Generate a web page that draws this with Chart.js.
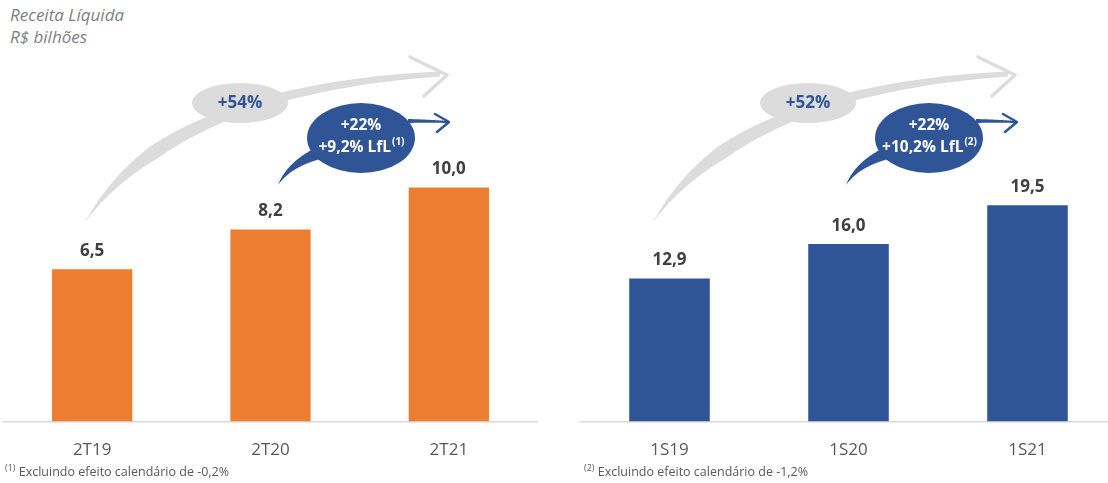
<!DOCTYPE html>
<html>
<head>
<meta charset="utf-8">
<script src="https://cdn.jsdelivr.net/npm/chart.js@4.4.1/dist/chart.umd.min.js"></script>
<style>
  html, body { margin: 0; padding: 0; background: #fff; }
  #page { position: relative; width: 1108px; height: 483px; overflow: hidden; font-family: "Open Sans", sans-serif; }
  .box { position: absolute; top: 0; height: 479px; }
  .title { position: absolute; left: 10px; color: #7f7f7f; font-style: italic; font-size: 17px; line-height: 22px; }
  .note { position: absolute; top: 461px; color: #595959; font-size: 12.5px; }
  .note sup { font-size: 9px; vertical-align: 5px; }
</style>
</head>
<body>
<div id="page">
  <div class="title" style="top:4px">Receita Líquida<br>R$ bilhões</div>
  <div class="box" style="left:3px; width:535px;"><canvas id="quarterChart"></canvas></div>
  <div class="box" style="left:580px; width:537px;"><canvas id="semesterChart"></canvas></div>
  <div class="note" style="left:5px"><sup>(1)</sup> Excluindo efeito calendário de -0,2%</div>
  <div class="note" style="left:584px"><sup>(2)</sup> Excluindo efeito calendário de -1,2%</div>
</div>
<script>
const quarterLabels = ['2T19', '2T20', '2T21'];
const quarterValues = [6.5, 8.2, 10.0];
const semesterLabels = ['1S19', '1S20', '1S21'];
const semesterValues = [12.9, 16.0, 19.5];
const quarterGrowth = ['+54%', '+22%', '+9,2% LfL', '(1)'];
const semesterGrowth = ['+52%', '+22%', '+10,2% LfL', '(2)'];

const ORANGE = '#ed7d31';
const BLUE = '#2f5597';
const GREY = '#dcdcdc';

// value labels above the bars
const valueLabels = {
    id: 'valueLabels',
    afterDatasetsDraw(chart) {
        const ctx = chart.ctx;
        const meta = chart.getDatasetMeta(0);
        ctx.save();
        ctx.font = 'bold 17px "Open Sans"';
        ctx.fillStyle = '#404040';
        ctx.textAlign = 'center';
        ctx.textBaseline = 'middle';
        meta.data.forEach(function(bar, i) {
            const v = chart.data.datasets[0].data[i];
            ctx.fillText(v.toFixed(1).replace('.', ','), bar.x, bar.y - 18);
        });
        ctx.restore();
    }
};

// tapered stroke along a quadratic curve
function swoosh(ctx, p0, c, p1, widthAt, color) {
    const left = [], right = [];
    const n = 60;
    for (let i = 0; i <= n; i++) {
        const t = i / n;
        const x = (1 - t) * (1 - t) * p0[0] + 2 * (1 - t) * t * c[0] + t * t * p1[0];
        const y = (1 - t) * (1 - t) * p0[1] + 2 * (1 - t) * t * c[1] + t * t * p1[1];
        const dx = 2 * (1 - t) * (c[0] - p0[0]) + 2 * t * (p1[0] - c[0]);
        const dy = 2 * (1 - t) * (c[1] - p0[1]) + 2 * t * (p1[1] - c[1]);
        const len = Math.hypot(dx, dy) || 1;
        const w = widthAt(t) / 2;
        left.push([x - dy / len * w, y + dx / len * w]);
        right.push([x + dy / len * w, y - dx / len * w]);
    }
    ctx.beginPath();
    ctx.moveTo(left[0][0], left[0][1]);
    left.forEach(p => ctx.lineTo(p[0], p[1]));
    right.reverse().forEach(p => ctx.lineTo(p[0], p[1]));
    ctx.closePath();
    ctx.fillStyle = color;
    ctx.fill();
}

function chevron(ctx, a, tip, b, color, width) {
    ctx.beginPath();
    ctx.moveTo(a[0], a[1]);
    ctx.lineTo(tip[0], tip[1]);
    ctx.lineTo(b[0], b[1]);
    ctx.strokeStyle = color;
    ctx.lineWidth = width;
    ctx.lineCap = 'round';
    ctx.lineJoin = 'round';
    ctx.stroke();
}

// growth arrows and bubbles
const growthArrows = {
    id: 'growthArrows',
    afterDraw(chart, args, opts) {
        const ctx = chart.ctx;
        const s = opts.shift;
        const X = x => x + s;
        const txt = opts.texts;
        ctx.save();

        // big grey arrow
        swoosh(ctx, [X(85), 222], [X(170), 90], [X(440), 74], function(t) {
            return t < 0.3 ? 14 * t / 0.3 : 14 - 9 * (t - 0.3) / 0.7;
        }, GREY);
        chevron(ctx, [X(410), 57], [X(447), 75], [X(424), 96], GREY, 3.5);

        ctx.beginPath();
        ctx.ellipse(X(240), 103, 48, 20, 0, 0, Math.PI * 2);
        ctx.fillStyle = GREY;
        ctx.fill();
        ctx.font = 'bold 17px "Open Sans"';
        ctx.fillStyle = BLUE;
        ctx.textAlign = 'center';
        ctx.textBaseline = 'middle';
        ctx.fillText(txt[0], X(240), 103);

        // small blue arrow
        swoosh(ctx, [X(278), 185], [X(290), 163], [X(322), 152], function(t) {
            return 13 * t;
        }, BLUE);
        swoosh(ctx, [X(408), 121], [X(428), 121], [X(448), 122], function(t) {
            return 4 - 2 * t;
        }, BLUE);
        chevron(ctx, [X(435), 114], [X(449), 122], [X(437), 132], BLUE, 2.5);

        ctx.beginPath();
        ctx.ellipse(X(361), 138, 54, 35, 0, 0, Math.PI * 2);
        ctx.fillStyle = BLUE;
        ctx.fill();
        ctx.fillStyle = '#ffffff';
        ctx.font = 'bold 15.5px "Open Sans"';
        ctx.fillText(txt[1], X(361), 126);
        const main = txt[2];
        const w1 = ctx.measureText(main).width;
        ctx.font = 'bold 10px "Open Sans"';
        const w2 = ctx.measureText(txt[3]).width;
        const startX = X(361) - (w1 + w2) / 2;
        ctx.textAlign = 'left';
        ctx.font = 'bold 15.5px "Open Sans"';
        ctx.fillText(main, startX, 148);
        ctx.font = 'bold 10px "Open Sans"';
        ctx.fillText(txt[3], startX + w1 + 1, 142);
        ctx.restore();
    }
};

function makeChart(id, labels, values, color, yMax, shift, texts) {
    return new Chart(document.getElementById(id).getContext('2d'), {
        type: 'bar',
        data: {
            labels: labels,
            datasets: [{
                data: values,
                backgroundColor: color,
                barPercentage: 0.45,
                categoryPercentage: 1.0
            }]
        },
        options: {
            responsive: true,
            maintainAspectRatio: false,
            animation: false,
            layout: { padding: { top: 0, bottom: 1, left: 0, right: 0 } },
            plugins: {
                legend: { display: false },
                tooltip: { enabled: false },
                growthArrows: { shift: shift, texts: texts }
            },
            scales: {
                x: {
                    grid: { display: false, drawTicks: false },
                    border: { display: true, color: '#d9d9d9', width: 1.5 },
                    ticks: { color: '#595959', font: { family: 'Open Sans', size: 17 }, padding: 18 }
                },
                y: {
                    display: false,
                    min: 0,
                    max: yMax
                }
            }
        },
        plugins: [valueLabels, growthArrows]
    });
}

makeChart('quarterChart', quarterLabels, quarterValues, ORANGE, 18, -3, quarterGrowth);
makeChart('semesterChart', semesterLabels, semesterValues, BLUE, 38, -12, semesterGrowth);
</script>
</body>
</html>
